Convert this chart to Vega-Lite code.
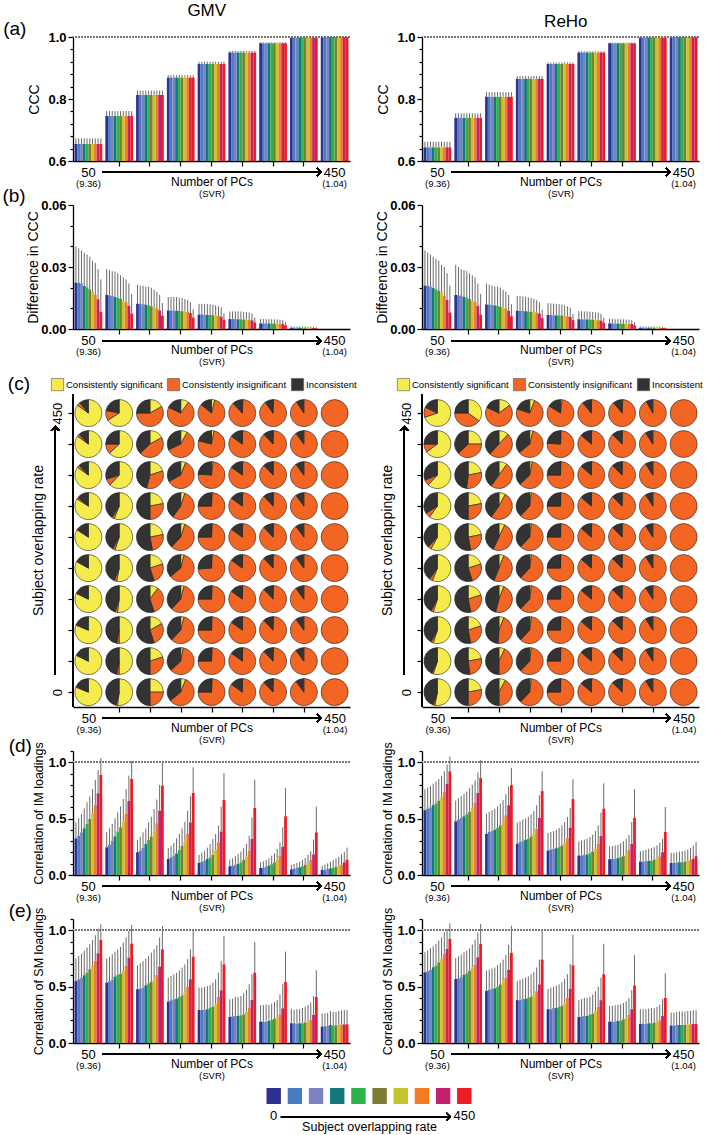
{
"$schema": "https://vega.github.io/schema/vega-lite/v6.json",
"padding": {"left": 2, "top": 2, "right": 2, "bottom": 2},
"config": {
  "font": "Liberation Sans",
  "view": {"stroke": null},
  "axis": {"grid": false, "labelOverlap": false, "domainColor": "#000", "domainWidth": 1.3, "tickColor": "#000", "tickWidth": 1.2, "labelColor": "#000", "titleColor": "#000", "titleFontWeight": "normal"},
  "title": {"fontWeight": "normal", "color": "#000"}
},
"datasets": {"main": [
{"p":"GMV","g":50,"r":0,"a":0.655,"ae":0.673,"b":0.0224,"be":0.040,"d":0.325,"de":0.467,"e":0.550,"ee":0.751,"sig":0.81,"ins":0.01,"inc":0.18},
{"p":"GMV","g":50,"r":50,"a":0.655,"ae":0.673,"b":0.0224,"be":0.039,"d":0.349,"de":0.503,"e":0.565,"ee":0.772,"sig":0.82,"ins":0.01,"inc":0.17},
{"p":"GMV","g":50,"r":100,"a":0.655,"ae":0.673,"b":0.0221,"be":0.038,"d":0.379,"de":0.541,"e":0.580,"ee":0.793,"sig":0.81,"ins":0.01,"inc":0.18},
{"p":"GMV","g":50,"r":150,"a":0.655,"ae":0.673,"b":0.0208,"be":0.037,"d":0.414,"de":0.592,"e":0.601,"ee":0.817,"sig":0.82,"ins":0.01,"inc":0.17},
{"p":"GMV","g":50,"r":200,"a":0.655,"ae":0.673,"b":0.0202,"be":0.036,"d":0.453,"de":0.645,"e":0.624,"ee":0.846,"sig":0.83,"ins":0.01,"inc":0.16},
{"p":"GMV","g":50,"r":250,"a":0.655,"ae":0.673,"b":0.0192,"be":0.035,"d":0.497,"de":0.698,"e":0.654,"ee":0.876,"sig":0.84,"ins":0.01,"inc":0.15},
{"p":"GMV","g":50,"r":300,"a":0.655,"ae":0.673,"b":0.0181,"be":0.033,"d":0.550,"de":0.763,"e":0.683,"ee":0.914,"sig":0.84,"ins":0.02,"inc":0.14},
{"p":"GMV","g":50,"r":350,"a":0.655,"ae":0.673,"b":0.0165,"be":0.032,"d":0.621,"de":0.843,"e":0.728,"ee":0.956,"sig":0.85,"ins":0.03,"inc":0.12},
{"p":"GMV","g":50,"r":400,"a":0.655,"ae":0.673,"b":0.0144,"be":0.029,"d":0.725,"de":0.929,"e":0.796,"ee":1.015,"sig":0.85,"ins":0.03,"inc":0.12},
{"p":"GMV","g":50,"r":450,"a":0.655,"ae":0.673,"b":0.0084,"be":0.024,"d":0.888,"de":1.038,"e":0.914,"ee":1.053,"sig":0.85,"ins":0.04,"inc":0.11},
{"p":"GMV","g":100,"r":0,"a":0.745,"ae":0.761,"b":0.0165,"be":0.029,"d":0.246,"de":0.379,"e":0.536,"ee":0.749,"sig":0.52,"ins":0.02,"inc":0.46},
{"p":"GMV","g":100,"r":50,"a":0.745,"ae":0.761,"b":0.0163,"be":0.0285,"d":0.269,"de":0.414,"e":0.547,"ee":0.766,"sig":0.50,"ins":0.03,"inc":0.47},
{"p":"GMV","g":100,"r":100,"a":0.745,"ae":0.761,"b":0.016,"be":0.028,"d":0.305,"de":0.453,"e":0.559,"ee":0.787,"sig":0.50,"ins":0.03,"inc":0.47},
{"p":"GMV","g":100,"r":150,"a":0.745,"ae":0.761,"b":0.0155,"be":0.0278,"d":0.343,"de":0.503,"e":0.589,"ee":0.811,"sig":0.52,"ins":0.03,"inc":0.45},
{"p":"GMV","g":100,"r":200,"a":0.745,"ae":0.761,"b":0.015,"be":0.027,"d":0.385,"de":0.556,"e":0.604,"ee":0.831,"sig":0.53,"ins":0.03,"inc":0.44},
{"p":"GMV","g":100,"r":250,"a":0.745,"ae":0.761,"b":0.0145,"be":0.026,"d":0.423,"de":0.609,"e":0.615,"ee":0.852,"sig":0.55,"ins":0.03,"inc":0.42},
{"p":"GMV","g":100,"r":300,"a":0.745,"ae":0.761,"b":0.0135,"be":0.025,"d":0.473,"de":0.675,"e":0.639,"ee":0.891,"sig":0.56,"ins":0.03,"inc":0.41},
{"p":"GMV","g":100,"r":350,"a":0.745,"ae":0.761,"b":0.013,"be":0.024,"d":0.541,"de":0.763,"e":0.683,"ee":0.935,"sig":0.62,"ins":0.08,"inc":0.30},
{"p":"GMV","g":100,"r":400,"a":0.745,"ae":0.761,"b":0.0112,"be":0.022,"d":0.657,"de":0.882,"e":0.757,"ee":0.994,"sig":0.63,"ins":0.12,"inc":0.25},
{"p":"GMV","g":100,"r":450,"a":0.745,"ae":0.761,"b":0.0075,"be":0.017,"d":0.852,"de":1.009,"e":0.882,"ee":1.047,"sig":0.66,"ins":0.12,"inc":0.22},
{"p":"GMV","g":150,"r":0,"a":0.813,"ae":0.827,"b":0.0122,"be":0.0215,"d":0.201,"de":0.311,"e":0.476,"ee":0.689,"sig":0.25,"ins":0.25,"inc":0.50},
{"p":"GMV","g":150,"r":50,"a":0.813,"ae":0.827,"b":0.0122,"be":0.021,"d":0.216,"de":0.340,"e":0.482,"ee":0.707,"sig":0.20,"ins":0.30,"inc":0.50},
{"p":"GMV","g":150,"r":100,"a":0.813,"ae":0.827,"b":0.012,"be":0.021,"d":0.240,"de":0.379,"e":0.491,"ee":0.728,"sig":0.17,"ins":0.28,"inc":0.55},
{"p":"GMV","g":150,"r":150,"a":0.813,"ae":0.827,"b":0.0118,"be":0.0205,"d":0.275,"de":0.414,"e":0.512,"ee":0.749,"sig":0.10,"ins":0.35,"inc":0.55},
{"p":"GMV","g":150,"r":200,"a":0.813,"ae":0.827,"b":0.0115,"be":0.0205,"d":0.311,"de":0.467,"e":0.530,"ee":0.772,"sig":0.20,"ins":0.25,"inc":0.55},
{"p":"GMV","g":150,"r":250,"a":0.813,"ae":0.827,"b":0.011,"be":0.020,"d":0.340,"de":0.518,"e":0.541,"ee":0.802,"sig":0.22,"ins":0.25,"inc":0.53},
{"p":"GMV","g":150,"r":300,"a":0.813,"ae":0.827,"b":0.0105,"be":0.019,"d":0.393,"de":0.586,"e":0.565,"ee":0.831,"sig":0.22,"ins":0.28,"inc":0.50},
{"p":"GMV","g":150,"r":350,"a":0.813,"ae":0.827,"b":0.010,"be":0.018,"d":0.459,"de":0.669,"e":0.604,"ee":0.867,"sig":0.20,"ins":0.34,"inc":0.46},
{"p":"GMV","g":150,"r":400,"a":0.813,"ae":0.827,"b":0.009,"be":0.0165,"d":0.571,"de":0.799,"e":0.678,"ee":0.935,"sig":0.17,"ins":0.46,"inc":0.37},
{"p":"GMV","g":150,"r":450,"a":0.813,"ae":0.827,"b":0.0065,"be":0.0125,"d":0.793,"de":0.994,"e":0.831,"ee":1.038,"sig":0.17,"ins":0.58,"inc":0.25},
{"p":"GMV","g":200,"r":0,"a":0.869,"ae":0.877,"b":0.009,"be":0.0155,"d":0.142,"de":0.237,"e":0.367,"ee":0.580,"sig":0.06,"ins":0.58,"inc":0.36},
{"p":"GMV","g":200,"r":50,"a":0.869,"ae":0.877,"b":0.009,"be":0.0155,"d":0.157,"de":0.260,"e":0.379,"ee":0.595,"sig":0.03,"ins":0.60,"inc":0.37},
{"p":"GMV","g":200,"r":100,"a":0.869,"ae":0.877,"b":0.009,"be":0.0155,"d":0.172,"de":0.284,"e":0.388,"ee":0.609,"sig":0.04,"ins":0.58,"inc":0.38},
{"p":"GMV","g":200,"r":150,"a":0.869,"ae":0.877,"b":0.0088,"be":0.0155,"d":0.192,"de":0.325,"e":0.393,"ee":0.624,"sig":0.04,"ins":0.58,"inc":0.38},
{"p":"GMV","g":200,"r":200,"a":0.869,"ae":0.877,"b":0.0087,"be":0.0152,"d":0.222,"de":0.364,"e":0.408,"ee":0.645,"sig":0.04,"ins":0.60,"inc":0.36},
{"p":"GMV","g":200,"r":250,"a":0.869,"ae":0.877,"b":0.0086,"be":0.015,"d":0.260,"de":0.414,"e":0.423,"ee":0.669,"sig":0.05,"ins":0.57,"inc":0.38},
{"p":"GMV","g":200,"r":300,"a":0.869,"ae":0.877,"b":0.0085,"be":0.0145,"d":0.296,"de":0.473,"e":0.447,"ee":0.698,"sig":0.05,"ins":0.55,"inc":0.40},
{"p":"GMV","g":200,"r":350,"a":0.869,"ae":0.877,"b":0.0082,"be":0.014,"d":0.364,"de":0.571,"e":0.500,"ee":0.743,"sig":0.06,"ins":0.61,"inc":0.33},
{"p":"GMV","g":200,"r":400,"a":0.869,"ae":0.877,"b":0.0077,"be":0.013,"d":0.467,"de":0.698,"e":0.565,"ee":0.831,"sig":0.08,"ins":0.60,"inc":0.32},
{"p":"GMV","g":200,"r":450,"a":0.869,"ae":0.877,"b":0.0055,"be":0.0095,"d":0.728,"de":0.956,"e":0.766,"ee":1.003,"sig":0.10,"ins":0.72,"inc":0.18},
{"p":"GMV","g":250,"r":0,"a":0.913,"ae":0.920,"b":0.007,"be":0.0122,"d":0.107,"de":0.178,"e":0.293,"ee":0.491,"sig":0.01,"ins":0.74,"inc":0.25},
{"p":"GMV","g":250,"r":50,"a":0.913,"ae":0.920,"b":0.007,"be":0.0122,"d":0.118,"de":0.201,"e":0.293,"ee":0.491,"sig":0.01,"ins":0.74,"inc":0.25},
{"p":"GMV","g":250,"r":100,"a":0.913,"ae":0.920,"b":0.0069,"be":0.0122,"d":0.127,"de":0.216,"e":0.296,"ee":0.497,"sig":0.01,"ins":0.74,"inc":0.25},
{"p":"GMV","g":250,"r":150,"a":0.913,"ae":0.920,"b":0.0068,"be":0.012,"d":0.142,"de":0.243,"e":0.299,"ee":0.506,"sig":0.01,"ins":0.74,"inc":0.25},
{"p":"GMV","g":250,"r":200,"a":0.913,"ae":0.920,"b":0.0068,"be":0.012,"d":0.157,"de":0.275,"e":0.314,"ee":0.515,"sig":0.01,"ins":0.73,"inc":0.26},
{"p":"GMV","g":250,"r":250,"a":0.913,"ae":0.920,"b":0.0067,"be":0.0118,"d":0.178,"de":0.320,"e":0.322,"ee":0.536,"sig":0.01,"ins":0.74,"inc":0.25},
{"p":"GMV","g":250,"r":300,"a":0.913,"ae":0.920,"b":0.0066,"be":0.0115,"d":0.225,"de":0.364,"e":0.343,"ee":0.565,"sig":0.01,"ins":0.74,"inc":0.25},
{"p":"GMV","g":250,"r":350,"a":0.913,"ae":0.920,"b":0.0063,"be":0.011,"d":0.290,"de":0.438,"e":0.408,"ee":0.624,"sig":0.02,"ins":0.74,"inc":0.24},
{"p":"GMV","g":250,"r":400,"a":0.913,"ae":0.920,"b":0.006,"be":0.0105,"d":0.385,"de":0.607,"e":0.467,"ee":0.728,"sig":0.03,"ins":0.76,"inc":0.21},
{"p":"GMV","g":250,"r":450,"a":0.913,"ae":0.920,"b":0.0045,"be":0.0075,"d":0.666,"de":0.905,"e":0.698,"ee":0.950,"sig":0.04,"ins":0.82,"inc":0.14},
{"p":"GMV","g":300,"r":0,"a":0.950,"ae":0.955,"b":0.0048,"be":0.0085,"d":0.077,"de":0.136,"e":0.231,"ee":0.388,"sig":0.005,"ins":0.845,"inc":0.15},
{"p":"GMV","g":300,"r":50,"a":0.950,"ae":0.955,"b":0.0048,"be":0.0085,"d":0.083,"de":0.148,"e":0.237,"ee":0.393,"sig":0.005,"ins":0.845,"inc":0.15},
{"p":"GMV","g":300,"r":100,"a":0.950,"ae":0.955,"b":0.0048,"be":0.0085,"d":0.092,"de":0.166,"e":0.240,"ee":0.408,"sig":0.005,"ins":0.845,"inc":0.15},
{"p":"GMV","g":300,"r":150,"a":0.950,"ae":0.955,"b":0.0047,"be":0.0085,"d":0.098,"de":0.186,"e":0.240,"ee":0.408,"sig":0.005,"ins":0.845,"inc":0.15},
{"p":"GMV","g":300,"r":200,"a":0.950,"ae":0.955,"b":0.0047,"be":0.0085,"d":0.112,"de":0.207,"e":0.246,"ee":0.417,"sig":0.005,"ins":0.845,"inc":0.15},
{"p":"GMV","g":300,"r":250,"a":0.950,"ae":0.955,"b":0.0046,"be":0.0083,"d":0.133,"de":0.237,"e":0.254,"ee":0.441,"sig":0.005,"ins":0.845,"inc":0.15},
{"p":"GMV","g":300,"r":300,"a":0.950,"ae":0.955,"b":0.0045,"be":0.0082,"d":0.163,"de":0.275,"e":0.278,"ee":0.470,"sig":0.005,"ins":0.845,"inc":0.15},
{"p":"GMV","g":300,"r":350,"a":0.950,"ae":0.955,"b":0.0044,"be":0.008,"d":0.216,"de":0.349,"e":0.311,"ee":0.521,"sig":0.005,"ins":0.845,"inc":0.15},
{"p":"GMV","g":300,"r":400,"a":0.950,"ae":0.955,"b":0.0042,"be":0.0075,"d":0.320,"de":0.512,"e":0.382,"ee":0.609,"sig":0.005,"ins":0.845,"inc":0.15},
{"p":"GMV","g":300,"r":450,"a":0.950,"ae":0.955,"b":0.0032,"be":0.0055,"d":0.595,"de":0.846,"e":0.624,"ee":0.896,"sig":0.01,"ins":0.87,"inc":0.12},
{"p":"GMV","g":350,"r":0,"a":0.980,"ae":0.983,"b":0.0027,"be":0.0048,"d":0.062,"de":0.112,"e":0.189,"ee":0.334,"sig":0.005,"ins":0.875,"inc":0.12},
{"p":"GMV","g":350,"r":50,"a":0.980,"ae":0.983,"b":0.0027,"be":0.0048,"d":0.065,"de":0.121,"e":0.189,"ee":0.337,"sig":0.005,"ins":0.875,"inc":0.12},
{"p":"GMV","g":350,"r":100,"a":0.980,"ae":0.983,"b":0.0027,"be":0.0048,"d":0.074,"de":0.133,"e":0.189,"ee":0.340,"sig":0.005,"ins":0.875,"inc":0.12},
{"p":"GMV","g":350,"r":150,"a":0.980,"ae":0.983,"b":0.0027,"be":0.0048,"d":0.083,"de":0.148,"e":0.195,"ee":0.337,"sig":0.005,"ins":0.875,"inc":0.12},
{"p":"GMV","g":350,"r":200,"a":0.980,"ae":0.983,"b":0.0026,"be":0.0047,"d":0.095,"de":0.172,"e":0.204,"ee":0.349,"sig":0.005,"ins":0.875,"inc":0.12},
{"p":"GMV","g":350,"r":250,"a":0.980,"ae":0.983,"b":0.0026,"be":0.0047,"d":0.112,"de":0.192,"e":0.216,"ee":0.364,"sig":0.005,"ins":0.875,"inc":0.12},
{"p":"GMV","g":350,"r":300,"a":0.980,"ae":0.983,"b":0.0026,"be":0.0046,"d":0.136,"de":0.231,"e":0.225,"ee":0.382,"sig":0.005,"ins":0.875,"inc":0.12},
{"p":"GMV","g":350,"r":350,"a":0.980,"ae":0.983,"b":0.0025,"be":0.0045,"d":0.172,"de":0.290,"e":0.254,"ee":0.432,"sig":0.005,"ins":0.875,"inc":0.12},
{"p":"GMV","g":350,"r":400,"a":0.980,"ae":0.983,"b":0.0024,"be":0.0043,"d":0.251,"de":0.423,"e":0.308,"ee":0.521,"sig":0.005,"ins":0.875,"inc":0.12},
{"p":"GMV","g":350,"r":450,"a":0.980,"ae":0.983,"b":0.0018,"be":0.0033,"d":0.521,"de":0.772,"e":0.541,"ee":0.811,"sig":0.005,"ins":0.895,"inc":0.10},
{"p":"GMV","g":400,"r":0,"a":0.998,"ae":0.999,"b":0.0006,"be":0.0012,"d":0.050,"de":0.089,"e":0.175,"ee":0.305,"sig":0,"ins":0.90,"inc":0.10},
{"p":"GMV","g":400,"r":50,"a":0.998,"ae":0.999,"b":0.0006,"be":0.0012,"d":0.053,"de":0.098,"e":0.175,"ee":0.293,"sig":0,"ins":0.90,"inc":0.10},
{"p":"GMV","g":400,"r":100,"a":0.998,"ae":0.999,"b":0.0006,"be":0.0012,"d":0.062,"de":0.107,"e":0.172,"ee":0.299,"sig":0,"ins":0.90,"inc":0.10},
{"p":"GMV","g":400,"r":150,"a":0.998,"ae":0.999,"b":0.0006,"be":0.0012,"d":0.068,"de":0.118,"e":0.175,"ee":0.299,"sig":0,"ins":0.90,"inc":0.10},
{"p":"GMV","g":400,"r":200,"a":0.998,"ae":0.999,"b":0.0006,"be":0.0012,"d":0.077,"de":0.133,"e":0.175,"ee":0.311,"sig":0,"ins":0.90,"inc":0.10},
{"p":"GMV","g":400,"r":250,"a":0.998,"ae":0.999,"b":0.0006,"be":0.0012,"d":0.092,"de":0.151,"e":0.183,"ee":0.322,"sig":0,"ins":0.90,"inc":0.10},
{"p":"GMV","g":400,"r":300,"a":0.998,"ae":0.999,"b":0.0006,"be":0.0011,"d":0.107,"de":0.178,"e":0.189,"ee":0.337,"sig":0,"ins":0.90,"inc":0.10},
{"p":"GMV","g":400,"r":350,"a":0.998,"ae":0.999,"b":0.0006,"be":0.0011,"d":0.133,"de":0.210,"e":0.204,"ee":0.358,"sig":0,"ins":0.90,"inc":0.10},
{"p":"GMV","g":400,"r":400,"a":0.998,"ae":0.999,"b":0.0005,"be":0.0010,"d":0.183,"de":0.314,"e":0.249,"ee":0.417,"sig":0,"ins":0.90,"inc":0.10},
{"p":"GMV","g":400,"r":450,"a":0.998,"ae":0.999,"b":0.0004,"be":0.0008,"d":0.379,"de":0.607,"e":0.408,"ee":0.645,"sig":0,"ins":0.91,"inc":0.09},
{"p":"GMV","g":450,"r":0,"a":1,"ae":1,"b":0,"be":0,"d":0.044,"de":0.083,"e":0.145,"ee":0.263,"sig":0,"ins":1,"inc":0},
{"p":"GMV","g":450,"r":50,"a":1,"ae":1,"b":0,"be":0,"d":0.047,"de":0.092,"e":0.148,"ee":0.263,"sig":0,"ins":1,"inc":0},
{"p":"GMV","g":450,"r":100,"a":1,"ae":1,"b":0,"be":0,"d":0.053,"de":0.104,"e":0.151,"ee":0.269,"sig":0,"ins":1,"inc":0},
{"p":"GMV","g":450,"r":150,"a":1,"ae":1,"b":0,"be":0,"d":0.059,"de":0.118,"e":0.160,"ee":0.284,"sig":0,"ins":1,"inc":0},
{"p":"GMV","g":450,"r":200,"a":1,"ae":1,"b":0,"be":0,"d":0.065,"de":0.133,"e":0.154,"ee":0.275,"sig":0,"ins":1,"inc":0},
{"p":"GMV","g":450,"r":250,"a":1,"ae":1,"b":0,"be":0,"d":0.071,"de":0.148,"e":0.157,"ee":0.275,"sig":0,"ins":1,"inc":0},
{"p":"GMV","g":450,"r":300,"a":1,"ae":1,"b":0,"be":0,"d":0.080,"de":0.163,"e":0.160,"ee":0.284,"sig":0,"ins":1,"inc":0},
{"p":"GMV","g":450,"r":350,"a":1,"ae":1,"b":0,"be":0,"d":0.092,"de":0.183,"e":0.163,"ee":0.290,"sig":0,"ins":1,"inc":0},
{"p":"GMV","g":450,"r":400,"a":1,"ae":1,"b":0,"be":0,"d":0.112,"de":0.207,"e":0.166,"ee":0.293,"sig":0,"ins":1,"inc":0},
{"p":"GMV","g":450,"r":450,"a":1,"ae":1,"b":0,"be":0,"d":0.136,"de":0.243,"e":0.166,"ee":0.293,"sig":0,"ins":1,"inc":0},
{"p":"ReHo","g":50,"r":0,"a":0.644,"ae":0.662,"b":0.021,"be":0.038,"d":0.575,"de":0.76,"e":0.627,"ee":0.805,"sig":0.53,"ins":0.02,"inc":0.45},
{"p":"ReHo","g":50,"r":50,"a":0.644,"ae":0.662,"b":0.021,"be":0.037,"d":0.59,"de":0.775,"e":0.636,"ee":0.820,"sig":0.55,"ins":0.02,"inc":0.43},
{"p":"ReHo","g":50,"r":100,"a":0.644,"ae":0.662,"b":0.0205,"be":0.036,"d":0.60,"de":0.79,"e":0.648,"ee":0.840,"sig":0.55,"ins":0.03,"inc":0.42},
{"p":"ReHo","g":50,"r":150,"a":0.644,"ae":0.662,"b":0.0198,"be":0.035,"d":0.62,"de":0.81,"e":0.672,"ee":0.858,"sig":0.55,"ins":0.03,"inc":0.42},
{"p":"ReHo","g":50,"r":200,"a":0.644,"ae":0.662,"b":0.0192,"be":0.034,"d":0.635,"de":0.83,"e":0.686,"ee":0.879,"sig":0.56,"ins":0.04,"inc":0.40},
{"p":"ReHo","g":50,"r":250,"a":0.644,"ae":0.662,"b":0.0185,"be":0.033,"d":0.66,"de":0.85,"e":0.716,"ee":0.908,"sig":0.58,"ins":0.04,"inc":0.38},
{"p":"ReHo","g":50,"r":300,"a":0.644,"ae":0.662,"b":0.0175,"be":0.031,"d":0.69,"de":0.88,"e":0.746,"ee":0.938,"sig":0.60,"ins":0.06,"inc":0.34},
{"p":"ReHo","g":50,"r":350,"a":0.644,"ae":0.662,"b":0.016,"be":0.030,"d":0.74,"de":0.92,"e":0.790,"ee":0.982,"sig":0.62,"ins":0.07,"inc":0.31},
{"p":"ReHo","g":50,"r":400,"a":0.644,"ae":0.662,"b":0.014,"be":0.027,"d":0.81,"de":0.98,"e":0.834,"ee":1.012,"sig":0.65,"ins":0.10,"inc":0.25},
{"p":"ReHo","g":50,"r":450,"a":0.644,"ae":0.662,"b":0.008,"be":0.021,"d":0.92,"de":1.05,"e":0.923,"ee":1.062,"sig":0.70,"ins":0.12,"inc":0.18},
{"p":"ReHo","g":100,"r":0,"a":0.739,"ae":0.754,"b":0.0165,"be":0.031,"d":0.476,"de":0.66,"e":0.568,"ee":0.754,"sig":0.22,"ins":0.28,"inc":0.50},
{"p":"ReHo","g":100,"r":50,"a":0.739,"ae":0.754,"b":0.0163,"be":0.030,"d":0.494,"de":0.68,"e":0.574,"ee":0.769,"sig":0.22,"ins":0.26,"inc":0.52},
{"p":"ReHo","g":100,"r":100,"a":0.739,"ae":0.754,"b":0.016,"be":0.029,"d":0.506,"de":0.70,"e":0.583,"ee":0.784,"sig":0.20,"ins":0.27,"inc":0.53},
{"p":"ReHo","g":100,"r":150,"a":0.739,"ae":0.754,"b":0.0155,"be":0.0285,"d":0.521,"de":0.72,"e":0.604,"ee":0.805,"sig":0.20,"ins":0.27,"inc":0.53},
{"p":"ReHo","g":100,"r":200,"a":0.739,"ae":0.754,"b":0.015,"be":0.028,"d":0.539,"de":0.74,"e":0.618,"ee":0.820,"sig":0.20,"ins":0.25,"inc":0.55},
{"p":"ReHo","g":100,"r":250,"a":0.739,"ae":0.754,"b":0.0145,"be":0.027,"d":0.560,"de":0.77,"e":0.642,"ee":0.840,"sig":0.22,"ins":0.25,"inc":0.53},
{"p":"ReHo","g":100,"r":300,"a":0.739,"ae":0.754,"b":0.0135,"be":0.026,"d":0.595,"de":0.80,"e":0.672,"ee":0.873,"sig":0.22,"ins":0.28,"inc":0.50},
{"p":"ReHo","g":100,"r":350,"a":0.739,"ae":0.754,"b":0.013,"be":0.025,"d":0.643,"de":0.84,"e":0.695,"ee":0.917,"sig":0.22,"ins":0.30,"inc":0.48},
{"p":"ReHo","g":100,"r":400,"a":0.739,"ae":0.754,"b":0.0112,"be":0.022,"d":0.729,"de":0.91,"e":0.760,"ee":0.982,"sig":0.25,"ins":0.38,"inc":0.37},
{"p":"ReHo","g":100,"r":450,"a":0.739,"ae":0.754,"b":0.007,"be":0.017,"d":0.86,"de":1.02,"e":0.879,"ee":1.056,"sig":0.35,"ins":0.40,"inc":0.25},
{"p":"ReHo","g":150,"r":0,"a":0.807,"ae":0.822,"b":0.0118,"be":0.022,"d":0.366,"de":0.545,"e":0.461,"ee":0.64,"sig":0.08,"ins":0.42,"inc":0.50},
{"p":"ReHo","g":150,"r":50,"a":0.807,"ae":0.822,"b":0.0118,"be":0.0215,"d":0.381,"de":0.560,"e":0.47,"ee":0.65,"sig":0.07,"ins":0.43,"inc":0.50},
{"p":"ReHo","g":150,"r":100,"a":0.807,"ae":0.822,"b":0.0116,"be":0.021,"d":0.390,"de":0.574,"e":0.48,"ee":0.66,"sig":0.06,"ins":0.45,"inc":0.49},
{"p":"ReHo","g":150,"r":150,"a":0.807,"ae":0.822,"b":0.0114,"be":0.0205,"d":0.402,"de":0.589,"e":0.485,"ee":0.67,"sig":0.06,"ins":0.48,"inc":0.46},
{"p":"ReHo","g":150,"r":200,"a":0.807,"ae":0.822,"b":0.0112,"be":0.0205,"d":0.420,"de":0.610,"e":0.50,"ee":0.69,"sig":0.06,"ins":0.50,"inc":0.44},
{"p":"ReHo","g":150,"r":250,"a":0.807,"ae":0.822,"b":0.0108,"be":0.020,"d":0.440,"de":0.634,"e":0.52,"ee":0.71,"sig":0.07,"ins":0.50,"inc":0.43},
{"p":"ReHo","g":150,"r":300,"a":0.807,"ae":0.822,"b":0.0103,"be":0.019,"d":0.470,"de":0.664,"e":0.545,"ee":0.74,"sig":0.08,"ins":0.52,"inc":0.40},
{"p":"ReHo","g":150,"r":350,"a":0.807,"ae":0.822,"b":0.0098,"be":0.018,"d":0.530,"de":0.717,"e":0.58,"ee":0.78,"sig":0.10,"ins":0.50,"inc":0.40},
{"p":"ReHo","g":150,"r":400,"a":0.807,"ae":0.822,"b":0.0088,"be":0.0165,"d":0.619,"de":0.783,"e":0.65,"ee":0.87,"sig":0.12,"ins":0.50,"inc":0.38},
{"p":"ReHo","g":150,"r":450,"a":0.807,"ae":0.822,"b":0.0062,"be":0.012,"d":0.798,"de":0.95,"e":0.80,"ee":1.04,"sig":0.15,"ins":0.67,"inc":0.18},
{"p":"ReHo","g":200,"r":0,"a":0.865,"ae":0.874,"b":0.0088,"be":0.016,"d":0.277,"de":0.464,"e":0.38,"ee":0.55,"sig":0.02,"ins":0.60,"inc":0.38},
{"p":"ReHo","g":200,"r":50,"a":0.865,"ae":0.874,"b":0.0088,"be":0.016,"d":0.292,"de":0.476,"e":0.38,"ee":0.56,"sig":0.02,"ins":0.60,"inc":0.38},
{"p":"ReHo","g":200,"r":100,"a":0.865,"ae":0.874,"b":0.0087,"be":0.0158,"d":0.301,"de":0.491,"e":0.39,"ee":0.57,"sig":0.02,"ins":0.60,"inc":0.38},
{"p":"ReHo","g":200,"r":150,"a":0.865,"ae":0.874,"b":0.0086,"be":0.0156,"d":0.313,"de":0.500,"e":0.39,"ee":0.58,"sig":0.02,"ins":0.60,"inc":0.38},
{"p":"ReHo","g":200,"r":200,"a":0.865,"ae":0.874,"b":0.0085,"be":0.0153,"d":0.321,"de":0.515,"e":0.40,"ee":0.59,"sig":0.02,"ins":0.60,"inc":0.38},
{"p":"ReHo","g":200,"r":250,"a":0.865,"ae":0.874,"b":0.0084,"be":0.015,"d":0.342,"de":0.539,"e":0.41,"ee":0.61,"sig":0.02,"ins":0.60,"inc":0.38},
{"p":"ReHo","g":200,"r":300,"a":0.865,"ae":0.874,"b":0.0082,"be":0.0145,"d":0.366,"de":0.568,"e":0.43,"ee":0.63,"sig":0.02,"ins":0.60,"inc":0.38},
{"p":"ReHo","g":200,"r":350,"a":0.865,"ae":0.874,"b":0.008,"be":0.014,"d":0.411,"de":0.619,"e":0.46,"ee":0.67,"sig":0.03,"ins":0.60,"inc":0.37},
{"p":"ReHo","g":200,"r":400,"a":0.865,"ae":0.874,"b":0.0075,"be":0.013,"d":0.506,"de":0.708,"e":0.52,"ee":0.74,"sig":0.04,"ins":0.60,"inc":0.36},
{"p":"ReHo","g":200,"r":450,"a":0.865,"ae":0.874,"b":0.0053,"be":0.0093,"d":0.744,"de":0.92,"e":0.74,"ee":1.0,"sig":0.06,"ins":0.74,"inc":0.20},
{"p":"ReHo","g":250,"r":0,"a":0.913,"ae":0.918,"b":0.0068,"be":0.0125,"d":0.217,"de":0.372,"e":0.30,"ee":0.48,"sig":0.005,"ins":0.745,"inc":0.25},
{"p":"ReHo","g":250,"r":50,"a":0.913,"ae":0.918,"b":0.0068,"be":0.0124,"d":0.223,"de":0.381,"e":0.30,"ee":0.49,"sig":0.005,"ins":0.745,"inc":0.25},
{"p":"ReHo","g":250,"r":100,"a":0.913,"ae":0.918,"b":0.0067,"be":0.0123,"d":0.232,"de":0.390,"e":0.31,"ee":0.50,"sig":0.005,"ins":0.745,"inc":0.25},
{"p":"ReHo","g":250,"r":150,"a":0.913,"ae":0.918,"b":0.0066,"be":0.0121,"d":0.238,"de":0.402,"e":0.31,"ee":0.51,"sig":0.005,"ins":0.745,"inc":0.25},
{"p":"ReHo","g":250,"r":200,"a":0.913,"ae":0.918,"b":0.0066,"be":0.012,"d":0.247,"de":0.417,"e":0.32,"ee":0.52,"sig":0.005,"ins":0.745,"inc":0.25},
{"p":"ReHo","g":250,"r":250,"a":0.913,"ae":0.918,"b":0.0065,"be":0.0118,"d":0.262,"de":0.440,"e":0.33,"ee":0.54,"sig":0.005,"ins":0.745,"inc":0.25},
{"p":"ReHo","g":250,"r":300,"a":0.913,"ae":0.918,"b":0.0064,"be":0.0115,"d":0.283,"de":0.470,"e":0.35,"ee":0.57,"sig":0.005,"ins":0.745,"inc":0.25},
{"p":"ReHo","g":250,"r":350,"a":0.913,"ae":0.918,"b":0.0062,"be":0.011,"d":0.327,"de":0.515,"e":0.40,"ee":0.61,"sig":0.005,"ins":0.745,"inc":0.25},
{"p":"ReHo","g":250,"r":400,"a":0.913,"ae":0.918,"b":0.0058,"be":0.0103,"d":0.420,"de":0.595,"e":0.48,"ee":0.70,"sig":0.01,"ins":0.75,"inc":0.24},
{"p":"ReHo","g":250,"r":450,"a":0.913,"ae":0.918,"b":0.0043,"be":0.0073,"d":0.673,"de":0.85,"e":0.69,"ee":0.96,"sig":0.02,"ins":0.82,"inc":0.16},
{"p":"ReHo","g":300,"r":0,"a":0.950,"ae":0.954,"b":0.0047,"be":0.0086,"d":0.173,"de":0.298,"e":0.23,"ee":0.38,"sig":0.005,"ins":0.86,"inc":0.135},
{"p":"ReHo","g":300,"r":50,"a":0.950,"ae":0.954,"b":0.0047,"be":0.0086,"d":0.173,"de":0.307,"e":0.235,"ee":0.39,"sig":0.005,"ins":0.86,"inc":0.135},
{"p":"ReHo","g":300,"r":100,"a":0.950,"ae":0.954,"b":0.0047,"be":0.0085,"d":0.179,"de":0.315,"e":0.24,"ee":0.40,"sig":0.005,"ins":0.86,"inc":0.135},
{"p":"ReHo","g":300,"r":150,"a":0.950,"ae":0.954,"b":0.0046,"be":0.0085,"d":0.182,"de":0.321,"e":0.24,"ee":0.40,"sig":0.005,"ins":0.86,"inc":0.135},
{"p":"ReHo","g":300,"r":200,"a":0.950,"ae":0.954,"b":0.0046,"be":0.0084,"d":0.193,"de":0.336,"e":0.25,"ee":0.41,"sig":0.005,"ins":0.86,"inc":0.135},
{"p":"ReHo","g":300,"r":250,"a":0.950,"ae":0.954,"b":0.0045,"be":0.0083,"d":0.208,"de":0.357,"e":0.26,"ee":0.43,"sig":0.005,"ins":0.86,"inc":0.135},
{"p":"ReHo","g":300,"r":300,"a":0.950,"ae":0.954,"b":0.0044,"be":0.0081,"d":0.232,"de":0.390,"e":0.28,"ee":0.46,"sig":0.005,"ins":0.86,"inc":0.135},
{"p":"ReHo","g":300,"r":350,"a":0.950,"ae":0.954,"b":0.0043,"be":0.0079,"d":0.277,"de":0.440,"e":0.32,"ee":0.50,"sig":0.005,"ins":0.86,"inc":0.135},
{"p":"ReHo","g":300,"r":400,"a":0.950,"ae":0.954,"b":0.0041,"be":0.0074,"d":0.345,"de":0.554,"e":0.38,"ee":0.58,"sig":0.005,"ins":0.86,"inc":0.135},
{"p":"ReHo","g":300,"r":450,"a":0.950,"ae":0.954,"b":0.0031,"be":0.0054,"d":0.589,"de":0.813,"e":0.61,"ee":0.88,"sig":0.005,"ins":0.885,"inc":0.11},
{"p":"ReHo","g":350,"r":0,"a":0.980,"ae":0.982,"b":0.0027,"be":0.0049,"d":0.140,"de":0.256,"e":0.19,"ee":0.33,"sig":0.005,"ins":0.87,"inc":0.125},
{"p":"ReHo","g":350,"r":50,"a":0.980,"ae":0.982,"b":0.0027,"be":0.0049,"d":0.143,"de":0.256,"e":0.19,"ee":0.33,"sig":0.005,"ins":0.87,"inc":0.125},
{"p":"ReHo","g":350,"r":100,"a":0.980,"ae":0.982,"b":0.0027,"be":0.0048,"d":0.143,"de":0.262,"e":0.19,"ee":0.335,"sig":0.005,"ins":0.87,"inc":0.125},
{"p":"ReHo","g":350,"r":150,"a":0.980,"ae":0.982,"b":0.0026,"be":0.0048,"d":0.149,"de":0.268,"e":0.195,"ee":0.34,"sig":0.005,"ins":0.87,"inc":0.125},
{"p":"ReHo","g":350,"r":200,"a":0.980,"ae":0.982,"b":0.0026,"be":0.0047,"d":0.158,"de":0.283,"e":0.20,"ee":0.345,"sig":0.005,"ins":0.87,"inc":0.125},
{"p":"ReHo","g":350,"r":250,"a":0.980,"ae":0.982,"b":0.0026,"be":0.0047,"d":0.167,"de":0.298,"e":0.21,"ee":0.355,"sig":0.005,"ins":0.87,"inc":0.125},
{"p":"ReHo","g":350,"r":300,"a":0.980,"ae":0.982,"b":0.0025,"be":0.0046,"d":0.182,"de":0.321,"e":0.225,"ee":0.37,"sig":0.005,"ins":0.87,"inc":0.125},
{"p":"ReHo","g":350,"r":350,"a":0.980,"ae":0.982,"b":0.0025,"be":0.0045,"d":0.223,"de":0.357,"e":0.25,"ee":0.40,"sig":0.005,"ins":0.87,"inc":0.125},
{"p":"ReHo","g":350,"r":400,"a":0.980,"ae":0.982,"b":0.0024,"be":0.0043,"d":0.277,"de":0.470,"e":0.30,"ee":0.47,"sig":0.005,"ins":0.87,"inc":0.125},
{"p":"ReHo","g":350,"r":450,"a":0.980,"ae":0.982,"b":0.0018,"be":0.0032,"d":0.506,"de":0.762,"e":0.51,"ee":0.78,"sig":0.01,"ins":0.88,"inc":0.11},
{"p":"ReHo","g":400,"r":0,"a":0.998,"ae":0.999,"b":0.0006,"be":0.0012,"d":0.119,"de":0.211,"e":0.17,"ee":0.30,"sig":0,"ins":0.91,"inc":0.09},
{"p":"ReHo","g":400,"r":50,"a":0.998,"ae":0.999,"b":0.0006,"be":0.0012,"d":0.119,"de":0.217,"e":0.17,"ee":0.30,"sig":0,"ins":0.91,"inc":0.09},
{"p":"ReHo","g":400,"r":100,"a":0.998,"ae":0.999,"b":0.0006,"be":0.0012,"d":0.122,"de":0.223,"e":0.17,"ee":0.30,"sig":0,"ins":0.91,"inc":0.09},
{"p":"ReHo","g":400,"r":150,"a":0.998,"ae":0.999,"b":0.0006,"be":0.0012,"d":0.125,"de":0.232,"e":0.175,"ee":0.305,"sig":0,"ins":0.91,"inc":0.09},
{"p":"ReHo","g":400,"r":200,"a":0.998,"ae":0.999,"b":0.0006,"be":0.0012,"d":0.128,"de":0.238,"e":0.175,"ee":0.31,"sig":0,"ins":0.91,"inc":0.09},
{"p":"ReHo","g":400,"r":250,"a":0.998,"ae":0.999,"b":0.0006,"be":0.0012,"d":0.137,"de":0.247,"e":0.18,"ee":0.31,"sig":0,"ins":0.91,"inc":0.09},
{"p":"ReHo","g":400,"r":300,"a":0.998,"ae":0.999,"b":0.0006,"be":0.0011,"d":0.149,"de":0.262,"e":0.19,"ee":0.32,"sig":0,"ins":0.91,"inc":0.09},
{"p":"ReHo","g":400,"r":350,"a":0.998,"ae":0.999,"b":0.0006,"be":0.0011,"d":0.167,"de":0.286,"e":0.20,"ee":0.34,"sig":0,"ins":0.91,"inc":0.09},
{"p":"ReHo","g":400,"r":400,"a":0.998,"ae":0.999,"b":0.0005,"be":0.0010,"d":0.202,"de":0.321,"e":0.24,"ee":0.39,"sig":0,"ins":0.91,"inc":0.09},
{"p":"ReHo","g":400,"r":450,"a":0.998,"ae":0.999,"b":0.0004,"be":0.0008,"d":0.381,"de":0.604,"e":0.40,"ee":0.62,"sig":0,"ins":0.92,"inc":0.08},
{"p":"ReHo","g":450,"r":0,"a":1,"ae":1,"b":0,"be":0,"d":0.107,"de":0.196,"e":0.155,"ee":0.27,"sig":0,"ins":1,"inc":0},
{"p":"ReHo","g":450,"r":50,"a":1,"ae":1,"b":0,"be":0,"d":0.107,"de":0.196,"e":0.155,"ee":0.27,"sig":0,"ins":1,"inc":0},
{"p":"ReHo","g":450,"r":100,"a":1,"ae":1,"b":0,"be":0,"d":0.110,"de":0.202,"e":0.16,"ee":0.275,"sig":0,"ins":1,"inc":0},
{"p":"ReHo","g":450,"r":150,"a":1,"ae":1,"b":0,"be":0,"d":0.113,"de":0.208,"e":0.16,"ee":0.28,"sig":0,"ins":1,"inc":0},
{"p":"ReHo","g":450,"r":200,"a":1,"ae":1,"b":0,"be":0,"d":0.113,"de":0.211,"e":0.16,"ee":0.28,"sig":0,"ins":1,"inc":0},
{"p":"ReHo","g":450,"r":250,"a":1,"ae":1,"b":0,"be":0,"d":0.119,"de":0.217,"e":0.16,"ee":0.28,"sig":0,"ins":1,"inc":0},
{"p":"ReHo","g":450,"r":300,"a":1,"ae":1,"b":0,"be":0,"d":0.125,"de":0.226,"e":0.165,"ee":0.285,"sig":0,"ins":1,"inc":0},
{"p":"ReHo","g":450,"r":350,"a":1,"ae":1,"b":0,"be":0,"d":0.134,"de":0.241,"e":0.165,"ee":0.285,"sig":0,"ins":1,"inc":0},
{"p":"ReHo","g":450,"r":400,"a":1,"ae":1,"b":0,"be":0,"d":0.143,"de":0.262,"e":0.17,"ee":0.29,"sig":0,"ins":1,"inc":0},
{"p":"ReHo","g":450,"r":450,"a":1,"ae":1,"b":0,"be":0,"d":0.167,"de":0.292,"e":0.17,"ee":0.29,"sig":0,"ins":1,"inc":0}
]},
"data": {"name": "main"},
"spacing": 8,
"center": true,
"resolve": {"scale": {"fill": "independent"}, "legend": {"fill": "independent"}},
"vconcat": [
{"spacing": 18,
 "resolve": {"scale": {"fill": "independent"}, "legend": {"fill": "independent"}},
 "hconcat": [
 {"title": {"text": "GMV", "fontSize": 17, "anchor": "middle", "frame": "bounds", "offset": 0, "dx": 27},
  "bounds": "flush", "spacing": 44,
  "resolve": {"scale": {"fill": "independent"}, "legend": {"fill": "independent"}},
  "vconcat": [
  {"width": 277, "height": 124,
   "title": {"text": "(a)", "orient": "left", "anchor": "end", "angle": 0, "align": "left", "baseline": "top", "fontSize": 19, "offset": 1, "dy": -11},
   "transform": [{"filter": "datum.p == 'GMV'"}],
   "resolve": {"axis": {"x": "independent", "y": "independent"}},
   "layer": [
    {"mark": {"type": "rule", "color": "#444", "strokeWidth": 0.8},
     "encoding": {
      "x": {"field": "g", "type": "ordinal", "scale": {"paddingInner": 0.1, "paddingOuter": 0.05},
            "axis": {"orient": "bottom", "offset": 17, "domain": false, "ticks": false, "labelExpr": "datum.value == 50 ? '(9.36)' : datum.value == 450 ? '(1.04)' : ''", "labelAngle": 0, "labelFontSize": 9.5, "labelPadding": 0, "title": "(SVR)", "titleFontSize": 9.5, "titlePadding": 1}},
      "xOffset": {"field": "r", "type": "ordinal", "scale": {"paddingInner": 0, "paddingOuter": 0}},
      "y": {"field": "a", "type": "quantitative", "scale": {"domain": [0.6, 1], "zero": false, "nice": false},
            "axis": {"title": "CCC", "titleFontSize": 14, "titlePadding": 6.5, "values": [0.6,0.64,0.68,0.72,0.76,0.8,0.84,0.88,0.92,0.96,1], "labelExpr": "abs(datum.value-0.6) < 1e-6 || abs(datum.value-0.8) < 1e-6 || abs(datum.value-1) < 1e-6 ? format(datum.value, '.1f') : ''", "tickSize": {"condition": {"test": "abs(datum.value-0.6) < 1e-6 || abs(datum.value-0.8) < 1e-6 || abs(datum.value-1) < 1e-6", "value": 5}, "value": 3}, "labelFontSize": 13, "labelFontWeight": "bold", "labelPadding": 2}},
      "y2": {"field": "ae"}}},
    {"mark": {"type": "bar"},
     "encoding": {
      "x": {"field": "g", "type": "ordinal",
            "axis": {"orient": "bottom", "labelExpr": "datum.value == 50 ? '50' : datum.value == 450 ? '450' : ''", "labelAngle": 0, "labelFontSize": 13, "labelPadding": 0, "tickSize": 5, "tickOpacity": {"condition": {"test": "datum.value == 50 || datum.value == 450", "value": 0}, "value": 1}, "title": "Number of PCs", "titleFontSize": 12, "titlePadding": -3}},
      "xOffset": {"field": "r", "type": "ordinal"},
      "y": {"field": "a", "type": "quantitative", "axis": null},
      "y2": {"datum": 0.6},
      "color": {"field": "r", "type": "ordinal", "scale": {"domain": [0,50,100,150,200,250,300,350,400,450], "range": ["#2e3192","#4a7cc4","#7f80c0","#13797a","#2eb34b","#7c7c33","#c5c52e","#f47b20","#c4216c","#ed1c24"]}, "legend": null}}},
    {"mark": {"type": "rule", "color": "#777", "strokeDash": [1.5, 1.5], "strokeWidth": 0.8}, "encoding": {"y": {"datum": 1, "type": "quantitative", "axis": null}}},
    {"mark": {"type": "rule", "color": "#000", "strokeWidth": 1.2}, "encoding": {"x": {"datum": 50, "type": "ordinal", "bandPosition": 1, "axis": null}, "x2": {"datum": 450, "bandPosition": 0}, "y": {"datum": 0.5645, "type": "quantitative", "axis": null}}},
    {"mark": {"type": "point", "shape": "M-1,-1L0,0L-1,1", "filled": false, "color": "#000", "strokeWidth": 1.2, "size": 60, "opacity": 1}, "encoding": {"x": {"datum": 450, "type": "ordinal", "bandPosition": 0, "axis": null}, "y": {"datum": 0.5645, "type": "quantitative", "axis": null}}}
   ]},
  {"width": 277, "height": 124,
   "title": {"text": "(b)", "orient": "left", "anchor": "end", "angle": 0, "align": "left", "baseline": "top", "fontSize": 19, "offset": 1, "dy": -12},
   "transform": [{"filter": "datum.p == 'GMV'"}],
   "resolve": {"axis": {"x": "independent", "y": "independent"}},
   "layer": [
    {"mark": {"type": "rule", "color": "#444", "strokeWidth": 0.8},
     "encoding": {
      "x": {"field": "g", "type": "ordinal", "scale": {"paddingInner": 0.1, "paddingOuter": 0.05},
            "axis": {"orient": "bottom", "offset": 17, "domain": false, "ticks": false, "labelExpr": "datum.value == 50 ? '(9.36)' : datum.value == 450 ? '(1.04)' : ''", "labelAngle": 0, "labelFontSize": 9.5, "labelPadding": 0, "title": "(SVR)", "titleFontSize": 9.5, "titlePadding": 1}},
      "xOffset": {"field": "r", "type": "ordinal", "scale": {"paddingInner": 0, "paddingOuter": 0}},
      "y": {"field": "b", "type": "quantitative", "scale": {"domain": [0, 0.06], "nice": false},
            "axis": {"title": "Difference in CCC", "titleFontSize": 14, "titlePadding": 0, "values": [0,0.01,0.02,0.03,0.04,0.05,0.06], "labelExpr": "abs(datum.value) < 1e-6 || abs(datum.value-0.03) < 1e-6 || abs(datum.value-0.06) < 1e-6 ? format(datum.value, '.2f') : ''", "tickSize": {"condition": {"test": "abs(datum.value) < 1e-6 || abs(datum.value-0.03) < 1e-6 || abs(datum.value-0.06) < 1e-6", "value": 5}, "value": 3}, "labelFontSize": 13, "labelFontWeight": "bold", "labelPadding": 2}},
      "y2": {"field": "be"}}},
    {"mark": {"type": "bar"},
     "encoding": {
      "x": {"field": "g", "type": "ordinal",
            "axis": {"orient": "bottom", "labelExpr": "datum.value == 50 ? '50' : datum.value == 450 ? '450' : ''", "labelAngle": 0, "labelFontSize": 13, "labelPadding": 0, "tickSize": 5, "tickOpacity": {"condition": {"test": "datum.value == 50 || datum.value == 450", "value": 0}, "value": 1}, "title": "Number of PCs", "titleFontSize": 12, "titlePadding": -3}},
      "xOffset": {"field": "r", "type": "ordinal"},
      "y": {"field": "b", "type": "quantitative", "axis": null},
      "color": {"field": "r", "type": "ordinal", "scale": {"domain": [0,50,100,150,200,250,300,350,400,450], "range": ["#2e3192","#4a7cc4","#7f80c0","#13797a","#2eb34b","#7c7c33","#c5c52e","#f47b20","#c4216c","#ed1c24"]}, "legend": null}}},
    {"mark": {"type": "rule", "color": "#000", "strokeWidth": 1.2}, "encoding": {"x": {"datum": 50, "type": "ordinal", "bandPosition": 1, "axis": null}, "x2": {"datum": 450, "bandPosition": 0}, "y": {"datum": -0.0057, "type": "quantitative", "axis": null}}},
    {"mark": {"type": "point", "shape": "M-1,-1L0,0L-1,1", "filled": false, "color": "#000", "strokeWidth": 1.2, "size": 60, "opacity": 1}, "encoding": {"x": {"datum": 450, "type": "ordinal", "bandPosition": 0, "axis": null}, "y": {"datum": -0.0057, "type": "quantitative", "axis": null}}}
   ]},
  {"width": 277, "height": 334,
   "title": {"text": "(c)", "orient": "left", "anchor": "end", "angle": 0, "align": "left", "baseline": "top", "fontSize": 19, "offset": 1, "dy": 2},
   "transform": [{"filter": "datum.p == 'GMV'"}],
   "resolve": {"axis": {"x": "independent", "y": "independent"}},
   "layer": [
    {"transform": [{"fold": ["sig", "ins", "inc"], "as": ["cat", "frac"]}, {"filter": "datum.frac > 0"}, {"stack": "frac", "groupby": ["g", "r"], "sort": [{"field": "cat", "order": "descending"}], "offset": "normalize", "as": ["t0", "t1"]}],
     "mark": {"type": "arc", "radius": 13.5, "stroke": "#222", "strokeWidth": 0.6},
     "encoding": {
      "x": {"field": "g", "type": "quantitative", "scale": {"domain": [25, 475], "nice": false, "zero": false},
            "axis": {"orient": "bottom", "values": [50,100,150,200,250,300,350,400,450], "labelExpr": "datum.value == 50 ? '50' : datum.value == 450 ? '450' : ''", "labelFlush": false, "labelOverlap": false, "labelAngle": 0, "labelFontSize": 13, "labelPadding": 0, "tickSize": 5, "tickOpacity": {"condition": {"test": "datum.value == 50 || datum.value == 450", "value": 0}, "value": 1}, "title": "Number of PCs", "titleFontSize": 12, "titlePadding": -3}},
      "y": {"field": "r", "type": "quantitative", "scale": {"domain": [-24, 514.6], "nice": false, "zero": false},
            "axis": {"domain": false, "values": [0,50,100,150,200,250,300,350,400,450], "labelExpr": "abs(datum.value) < 1e-6 ? '0' : abs(datum.value-450) < 1e-6 ? '450' : ''", "labelFlush": false, "labelOverlap": false, "labelAngle": 270, "labelFontSize": 13, "labelPadding": 4, "tickSize": 5, "title": "Subject overlapping rate", "titleFontSize": 14, "titlePadding": 6}},
      "theta": {"field": "t0", "type": "quantitative", "scale": {"domain": [0, 1]}, "stack": null},
      "theta2": {"field": "t1"},
      "fill": {"field": "cat", "type": "nominal", "scale": {"domain": ["sig", "ins", "inc"], "range": ["#f5ec4b", "#f26522", "#333333"]},
                "legend": {"orient": "none", "legendX": -22, "legendY": 5, "direction": "horizontal", "title": null, "symbolType": "square", "symbolSize": 150, "symbolStrokeColor": "#555", "symbolStrokeWidth": 0.6, "labelFontSize": 9.5, "labelOffset": 2, "columnPadding": 3, "labelExpr": "datum.value == 'sig' ? 'Consistently significant' : datum.value == 'ins' ? 'Consistently insignificant' : 'Inconsistent'"}}}},
    {"mark": {"type": "rule", "color": "#000", "strokeWidth": 1.3},
     "encoding": {"x": {"datum": 25, "type": "quantitative",
       "axis": {"orient": "bottom", "offset": 17, "domain": false, "ticks": false, "values": [50, 450], "labelExpr": "datum.value == 50 ? '(9.36)' : datum.value == 450 ? '(1.04)' : ''", "labelFlush": false, "labelOverlap": false, "labelAngle": 0, "labelFontSize": 9.5, "labelPadding": 0, "title": "(SVR)", "titleFontSize": 9.5, "titlePadding": 1}},
      "y": {"datum": -24, "type": "quantitative", "axis": null}, "y2": {"datum": 480}}},
    {"mark": {"type": "rule", "color": "#000", "strokeWidth": 1.2}, "encoding": {"x": {"datum": 73, "type": "quantitative", "axis": null}, "x2": {"datum": 428}, "y": {"datum": -41.7, "type": "quantitative", "axis": null}}},
    {"mark": {"type": "point", "shape": "M-1,-1L0,0L-1,1", "filled": false, "color": "#000", "strokeWidth": 1.2, "size": 60, "opacity": 1}, "encoding": {"x": {"datum": 428, "type": "quantitative", "axis": null}, "y": {"datum": -41.7, "type": "quantitative", "axis": null}}},
    {"mark": {"type": "rule", "color": "#000", "strokeWidth": 1.2}, "encoding": {"x": {"datum": -4, "type": "quantitative", "axis": null}, "y": {"datum": 28, "type": "quantitative", "axis": null}, "y2": {"datum": 428}}},
    {"mark": {"type": "point", "shape": "M-1,1L0,0L1,1", "filled": false, "color": "#000", "strokeWidth": 1.2, "size": 60, "opacity": 1}, "encoding": {"x": {"datum": -4, "type": "quantitative", "axis": null}, "y": {"datum": 428, "type": "quantitative", "axis": null}}}
   ]},
  {"width": 277, "height": 124,
   "title": {"text": "(d)", "orient": "left", "anchor": "end", "angle": 0, "align": "left", "baseline": "top", "fontSize": 19, "offset": 1, "dy": -5},
   "transform": [{"filter": "datum.p == 'GMV'"}],
   "resolve": {"axis": {"x": "independent", "y": "independent"}},
   "layer": [
    {"mark": {"type": "rule", "color": "#444", "strokeWidth": 0.8},
     "encoding": {
      "x": {"field": "g", "type": "ordinal", "scale": {"paddingInner": 0.1, "paddingOuter": 0.05},
            "axis": {"orient": "bottom", "offset": 17, "domain": false, "ticks": false, "labelExpr": "datum.value == 50 ? '(9.36)' : datum.value == 450 ? '(1.04)' : ''", "labelAngle": 0, "labelFontSize": 9.5, "labelPadding": 0, "title": "(SVR)", "titleFontSize": 9.5, "titlePadding": 1}},
      "xOffset": {"field": "r", "type": "ordinal", "scale": {"paddingInner": 0, "paddingOuter": 0}},
      "y": {"field": "d", "type": "quantitative", "scale": {"domain": [0, 1.1], "nice": false},
            "axis": {"title": "Correlation of IM loadings", "titleFontSize": 12.5, "titlePadding": 2, "values": [0,0.1,0.2,0.3,0.4,0.5,0.6,0.7,0.8,0.9,1,1.1], "labelExpr": "abs(datum.value) < 1e-6 || abs(datum.value-0.5) < 1e-6 || abs(datum.value-1) < 1e-6 ? format(datum.value, '.1f') : ''", "tickSize": {"condition": {"test": "abs(datum.value) < 1e-6 || abs(datum.value-0.5) < 1e-6 || abs(datum.value-1) < 1e-6", "value": 5}, "value": 3}, "labelFontSize": 13, "labelFontWeight": "bold", "labelPadding": 2}},
      "y2": {"field": "de"}}},
    {"mark": {"type": "bar"},
     "encoding": {
      "x": {"field": "g", "type": "ordinal",
            "axis": {"orient": "bottom", "labelExpr": "datum.value == 50 ? '50' : datum.value == 450 ? '450' : ''", "labelAngle": 0, "labelFontSize": 13, "labelPadding": 0, "tickSize": 5, "tickOpacity": {"condition": {"test": "datum.value == 50 || datum.value == 450", "value": 0}, "value": 1}, "title": "Number of PCs", "titleFontSize": 12, "titlePadding": -3}},
      "xOffset": {"field": "r", "type": "ordinal"},
      "y": {"field": "d", "type": "quantitative", "axis": null},
      "color": {"field": "r", "type": "ordinal", "scale": {"domain": [0,50,100,150,200,250,300,350,400,450], "range": ["#2e3192","#4a7cc4","#7f80c0","#13797a","#2eb34b","#7c7c33","#c5c52e","#f47b20","#c4216c","#ed1c24"]}, "legend": null}}},
    {"mark": {"type": "rule", "color": "#777", "strokeDash": [1.5, 1.5], "strokeWidth": 0.8}, "encoding": {"y": {"datum": 1, "type": "quantitative", "axis": null}}},
    {"mark": {"type": "rule", "color": "#000", "strokeWidth": 1.2}, "encoding": {"x": {"datum": 50, "type": "ordinal", "bandPosition": 1, "axis": null}, "x2": {"datum": 450, "bandPosition": 0}, "y": {"datum": -0.098, "type": "quantitative", "axis": null}}},
    {"mark": {"type": "point", "shape": "M-1,-1L0,0L-1,1", "filled": false, "color": "#000", "strokeWidth": 1.2, "size": 60, "opacity": 1}, "encoding": {"x": {"datum": 450, "type": "ordinal", "bandPosition": 0, "axis": null}, "y": {"datum": -0.098, "type": "quantitative", "axis": null}}}
   ]},
  {"width": 277, "height": 124,
   "title": {"text": "(e)", "orient": "left", "anchor": "end", "angle": 0, "align": "left", "baseline": "top", "fontSize": 19, "offset": 1, "dy": -5},
   "transform": [{"filter": "datum.p == 'GMV'"}],
   "resolve": {"axis": {"x": "independent", "y": "independent"}},
   "layer": [
    {"mark": {"type": "rule", "color": "#444", "strokeWidth": 0.8},
     "encoding": {
      "x": {"field": "g", "type": "ordinal", "scale": {"paddingInner": 0.1, "paddingOuter": 0.05},
            "axis": {"orient": "bottom", "offset": 17, "domain": false, "ticks": false, "labelExpr": "datum.value == 50 ? '(9.36)' : datum.value == 450 ? '(1.04)' : ''", "labelAngle": 0, "labelFontSize": 9.5, "labelPadding": 0, "title": "(SVR)", "titleFontSize": 9.5, "titlePadding": 1}},
      "xOffset": {"field": "r", "type": "ordinal", "scale": {"paddingInner": 0, "paddingOuter": 0}},
      "y": {"field": "e", "type": "quantitative", "scale": {"domain": [0, 1.1], "nice": false},
            "axis": {"title": "Correlation of SM loadings", "titleFontSize": 12.5, "titlePadding": 2, "values": [0,0.1,0.2,0.3,0.4,0.5,0.6,0.7,0.8,0.9,1,1.1], "labelExpr": "abs(datum.value) < 1e-6 || abs(datum.value-0.5) < 1e-6 || abs(datum.value-1) < 1e-6 ? format(datum.value, '.1f') : ''", "tickSize": {"condition": {"test": "abs(datum.value) < 1e-6 || abs(datum.value-0.5) < 1e-6 || abs(datum.value-1) < 1e-6", "value": 5}, "value": 3}, "labelFontSize": 13, "labelFontWeight": "bold", "labelPadding": 2}},
      "y2": {"field": "ee"}}},
    {"mark": {"type": "bar"},
     "encoding": {
      "x": {"field": "g", "type": "ordinal",
            "axis": {"orient": "bottom", "labelExpr": "datum.value == 50 ? '50' : datum.value == 450 ? '450' : ''", "labelAngle": 0, "labelFontSize": 13, "labelPadding": 0, "tickSize": 5, "tickOpacity": {"condition": {"test": "datum.value == 50 || datum.value == 450", "value": 0}, "value": 1}, "title": "Number of PCs", "titleFontSize": 12, "titlePadding": -3}},
      "xOffset": {"field": "r", "type": "ordinal"},
      "y": {"field": "e", "type": "quantitative", "axis": null},
      "color": {"field": "r", "type": "ordinal", "scale": {"domain": [0,50,100,150,200,250,300,350,400,450], "range": ["#2e3192","#4a7cc4","#7f80c0","#13797a","#2eb34b","#7c7c33","#c5c52e","#f47b20","#c4216c","#ed1c24"]}, "legend": null}}},
    {"mark": {"type": "rule", "color": "#777", "strokeDash": [1.5, 1.5], "strokeWidth": 0.8}, "encoding": {"y": {"datum": 1, "type": "quantitative", "axis": null}}},
    {"mark": {"type": "rule", "color": "#000", "strokeWidth": 1.2}, "encoding": {"x": {"datum": 50, "type": "ordinal", "bandPosition": 1, "axis": null}, "x2": {"datum": 450, "bandPosition": 0}, "y": {"datum": -0.098, "type": "quantitative", "axis": null}}},
    {"mark": {"type": "point", "shape": "M-1,-1L0,0L-1,1", "filled": false, "color": "#000", "strokeWidth": 1.2, "size": 60, "opacity": 1}, "encoding": {"x": {"datum": 450, "type": "ordinal", "bandPosition": 0, "axis": null}, "y": {"datum": -0.098, "type": "quantitative", "axis": null}}}
   ]}
  ]},
 {"title": {"text": "ReHo", "fontSize": 17, "anchor": "middle", "frame": "bounds", "offset": 0, "dx": 26.5},
  "bounds": "flush", "spacing": 44,
  "resolve": {"scale": {"fill": "independent"}, "legend": {"fill": "independent"}},
  "vconcat": [
  {"width": 277, "height": 124,
   "transform": [{"filter": "datum.p == 'ReHo'"}],
   "resolve": {"axis": {"x": "independent", "y": "independent"}},
   "layer": [
    {"mark": {"type": "rule", "color": "#444", "strokeWidth": 0.8},
     "encoding": {
      "x": {"field": "g", "type": "ordinal", "scale": {"paddingInner": 0.1, "paddingOuter": 0.05},
            "axis": {"orient": "bottom", "offset": 17, "domain": false, "ticks": false, "labelExpr": "datum.value == 50 ? '(9.36)' : datum.value == 450 ? '(1.04)' : ''", "labelAngle": 0, "labelFontSize": 9.5, "labelPadding": 0, "title": "(SVR)", "titleFontSize": 9.5, "titlePadding": 1}},
      "xOffset": {"field": "r", "type": "ordinal", "scale": {"paddingInner": 0, "paddingOuter": 0}},
      "y": {"field": "a", "type": "quantitative", "scale": {"domain": [0.6, 1], "zero": false, "nice": false},
            "axis": {"title": "CCC", "titleFontSize": 14, "titlePadding": 6.5, "values": [0.6,0.64,0.68,0.72,0.76,0.8,0.84,0.88,0.92,0.96,1], "labelExpr": "abs(datum.value-0.6) < 1e-6 || abs(datum.value-0.8) < 1e-6 || abs(datum.value-1) < 1e-6 ? format(datum.value, '.1f') : ''", "tickSize": {"condition": {"test": "abs(datum.value-0.6) < 1e-6 || abs(datum.value-0.8) < 1e-6 || abs(datum.value-1) < 1e-6", "value": 5}, "value": 3}, "labelFontSize": 13, "labelFontWeight": "bold", "labelPadding": 2}},
      "y2": {"field": "ae"}}},
    {"mark": {"type": "bar"},
     "encoding": {
      "x": {"field": "g", "type": "ordinal",
            "axis": {"orient": "bottom", "labelExpr": "datum.value == 50 ? '50' : datum.value == 450 ? '450' : ''", "labelAngle": 0, "labelFontSize": 13, "labelPadding": 0, "tickSize": 5, "tickOpacity": {"condition": {"test": "datum.value == 50 || datum.value == 450", "value": 0}, "value": 1}, "title": "Number of PCs", "titleFontSize": 12, "titlePadding": -3}},
      "xOffset": {"field": "r", "type": "ordinal"},
      "y": {"field": "a", "type": "quantitative", "axis": null},
      "y2": {"datum": 0.6},
      "color": {"field": "r", "type": "ordinal", "scale": {"domain": [0,50,100,150,200,250,300,350,400,450], "range": ["#2e3192","#4a7cc4","#7f80c0","#13797a","#2eb34b","#7c7c33","#c5c52e","#f47b20","#c4216c","#ed1c24"]}, "legend": null}}},
    {"mark": {"type": "rule", "color": "#777", "strokeDash": [1.5, 1.5], "strokeWidth": 0.8}, "encoding": {"y": {"datum": 1, "type": "quantitative", "axis": null}}},
    {"mark": {"type": "rule", "color": "#000", "strokeWidth": 1.2}, "encoding": {"x": {"datum": 50, "type": "ordinal", "bandPosition": 1, "axis": null}, "x2": {"datum": 450, "bandPosition": 0}, "y": {"datum": 0.5645, "type": "quantitative", "axis": null}}},
    {"mark": {"type": "point", "shape": "M-1,-1L0,0L-1,1", "filled": false, "color": "#000", "strokeWidth": 1.2, "size": 60, "opacity": 1}, "encoding": {"x": {"datum": 450, "type": "ordinal", "bandPosition": 0, "axis": null}, "y": {"datum": 0.5645, "type": "quantitative", "axis": null}}}
   ]},
  {"width": 277, "height": 124,
   "transform": [{"filter": "datum.p == 'ReHo'"}],
   "resolve": {"axis": {"x": "independent", "y": "independent"}},
   "layer": [
    {"mark": {"type": "rule", "color": "#444", "strokeWidth": 0.8},
     "encoding": {
      "x": {"field": "g", "type": "ordinal", "scale": {"paddingInner": 0.1, "paddingOuter": 0.05},
            "axis": {"orient": "bottom", "offset": 17, "domain": false, "ticks": false, "labelExpr": "datum.value == 50 ? '(9.36)' : datum.value == 450 ? '(1.04)' : ''", "labelAngle": 0, "labelFontSize": 9.5, "labelPadding": 0, "title": "(SVR)", "titleFontSize": 9.5, "titlePadding": 1}},
      "xOffset": {"field": "r", "type": "ordinal", "scale": {"paddingInner": 0, "paddingOuter": 0}},
      "y": {"field": "b", "type": "quantitative", "scale": {"domain": [0, 0.06], "nice": false},
            "axis": {"title": "Difference in CCC", "titleFontSize": 14, "titlePadding": 0, "values": [0,0.01,0.02,0.03,0.04,0.05,0.06], "labelExpr": "abs(datum.value) < 1e-6 || abs(datum.value-0.03) < 1e-6 || abs(datum.value-0.06) < 1e-6 ? format(datum.value, '.2f') : ''", "tickSize": {"condition": {"test": "abs(datum.value) < 1e-6 || abs(datum.value-0.03) < 1e-6 || abs(datum.value-0.06) < 1e-6", "value": 5}, "value": 3}, "labelFontSize": 13, "labelFontWeight": "bold", "labelPadding": 2}},
      "y2": {"field": "be"}}},
    {"mark": {"type": "bar"},
     "encoding": {
      "x": {"field": "g", "type": "ordinal",
            "axis": {"orient": "bottom", "labelExpr": "datum.value == 50 ? '50' : datum.value == 450 ? '450' : ''", "labelAngle": 0, "labelFontSize": 13, "labelPadding": 0, "tickSize": 5, "tickOpacity": {"condition": {"test": "datum.value == 50 || datum.value == 450", "value": 0}, "value": 1}, "title": "Number of PCs", "titleFontSize": 12, "titlePadding": -3}},
      "xOffset": {"field": "r", "type": "ordinal"},
      "y": {"field": "b", "type": "quantitative", "axis": null},
      "color": {"field": "r", "type": "ordinal", "scale": {"domain": [0,50,100,150,200,250,300,350,400,450], "range": ["#2e3192","#4a7cc4","#7f80c0","#13797a","#2eb34b","#7c7c33","#c5c52e","#f47b20","#c4216c","#ed1c24"]}, "legend": null}}},
    {"mark": {"type": "rule", "color": "#000", "strokeWidth": 1.2}, "encoding": {"x": {"datum": 50, "type": "ordinal", "bandPosition": 1, "axis": null}, "x2": {"datum": 450, "bandPosition": 0}, "y": {"datum": -0.0057, "type": "quantitative", "axis": null}}},
    {"mark": {"type": "point", "shape": "M-1,-1L0,0L-1,1", "filled": false, "color": "#000", "strokeWidth": 1.2, "size": 60, "opacity": 1}, "encoding": {"x": {"datum": 450, "type": "ordinal", "bandPosition": 0, "axis": null}, "y": {"datum": -0.0057, "type": "quantitative", "axis": null}}}
   ]},
  {"width": 277, "height": 334,
   "transform": [{"filter": "datum.p == 'ReHo'"}],
   "resolve": {"axis": {"x": "independent", "y": "independent"}},
   "layer": [
    {"transform": [{"fold": ["sig", "ins", "inc"], "as": ["cat", "frac"]}, {"filter": "datum.frac > 0"}, {"stack": "frac", "groupby": ["g", "r"], "sort": [{"field": "cat", "order": "descending"}], "offset": "normalize", "as": ["t0", "t1"]}],
     "mark": {"type": "arc", "radius": 13.5, "stroke": "#222", "strokeWidth": 0.6},
     "encoding": {
      "x": {"field": "g", "type": "quantitative", "scale": {"domain": [25, 475], "nice": false, "zero": false},
            "axis": {"orient": "bottom", "values": [50,100,150,200,250,300,350,400,450], "labelExpr": "datum.value == 50 ? '50' : datum.value == 450 ? '450' : ''", "labelFlush": false, "labelOverlap": false, "labelAngle": 0, "labelFontSize": 13, "labelPadding": 0, "tickSize": 5, "tickOpacity": {"condition": {"test": "datum.value == 50 || datum.value == 450", "value": 0}, "value": 1}, "title": "Number of PCs", "titleFontSize": 12, "titlePadding": -3}},
      "y": {"field": "r", "type": "quantitative", "scale": {"domain": [-24, 514.6], "nice": false, "zero": false},
            "axis": {"domain": false, "values": [0,50,100,150,200,250,300,350,400,450], "labelExpr": "abs(datum.value) < 1e-6 ? '0' : abs(datum.value-450) < 1e-6 ? '450' : ''", "labelFlush": false, "labelOverlap": false, "labelAngle": 270, "labelFontSize": 13, "labelPadding": 4, "tickSize": 5, "title": "Subject overlapping rate", "titleFontSize": 14, "titlePadding": 6}},
      "theta": {"field": "t0", "type": "quantitative", "scale": {"domain": [0, 1]}, "stack": null},
      "theta2": {"field": "t1"},
      "fill": {"field": "cat", "type": "nominal", "scale": {"domain": ["sig", "ins", "inc"], "range": ["#f5ec4b", "#f26522", "#333333"]},
                "legend": {"orient": "none", "legendX": -25, "legendY": 5, "direction": "horizontal", "title": null, "symbolType": "square", "symbolSize": 150, "symbolStrokeColor": "#555", "symbolStrokeWidth": 0.6, "labelFontSize": 9.5, "labelOffset": 2, "columnPadding": 3, "labelExpr": "datum.value == 'sig' ? 'Consistently significant' : datum.value == 'ins' ? 'Consistently insignificant' : 'Inconsistent'"}}}},
    {"mark": {"type": "rule", "color": "#000", "strokeWidth": 1.3},
     "encoding": {"x": {"datum": 25, "type": "quantitative",
       "axis": {"orient": "bottom", "offset": 17, "domain": false, "ticks": false, "values": [50, 450], "labelExpr": "datum.value == 50 ? '(9.36)' : datum.value == 450 ? '(1.04)' : ''", "labelFlush": false, "labelOverlap": false, "labelAngle": 0, "labelFontSize": 9.5, "labelPadding": 0, "title": "(SVR)", "titleFontSize": 9.5, "titlePadding": 1}},
      "y": {"datum": -24, "type": "quantitative", "axis": null}, "y2": {"datum": 480}}},
    {"mark": {"type": "rule", "color": "#000", "strokeWidth": 1.2}, "encoding": {"x": {"datum": 73, "type": "quantitative", "axis": null}, "x2": {"datum": 428}, "y": {"datum": -41.7, "type": "quantitative", "axis": null}}},
    {"mark": {"type": "point", "shape": "M-1,-1L0,0L-1,1", "filled": false, "color": "#000", "strokeWidth": 1.2, "size": 60, "opacity": 1}, "encoding": {"x": {"datum": 428, "type": "quantitative", "axis": null}, "y": {"datum": -41.7, "type": "quantitative", "axis": null}}},
    {"mark": {"type": "rule", "color": "#000", "strokeWidth": 1.2}, "encoding": {"x": {"datum": -4, "type": "quantitative", "axis": null}, "y": {"datum": 28, "type": "quantitative", "axis": null}, "y2": {"datum": 428}}},
    {"mark": {"type": "point", "shape": "M-1,1L0,0L1,1", "filled": false, "color": "#000", "strokeWidth": 1.2, "size": 60, "opacity": 1}, "encoding": {"x": {"datum": -4, "type": "quantitative", "axis": null}, "y": {"datum": 428, "type": "quantitative", "axis": null}}}
   ]},
  {"width": 277, "height": 124,
   "transform": [{"filter": "datum.p == 'ReHo'"}],
   "resolve": {"axis": {"x": "independent", "y": "independent"}},
   "layer": [
    {"mark": {"type": "rule", "color": "#444", "strokeWidth": 0.8},
     "encoding": {
      "x": {"field": "g", "type": "ordinal", "scale": {"paddingInner": 0.1, "paddingOuter": 0.05},
            "axis": {"orient": "bottom", "offset": 17, "domain": false, "ticks": false, "labelExpr": "datum.value == 50 ? '(9.36)' : datum.value == 450 ? '(1.04)' : ''", "labelAngle": 0, "labelFontSize": 9.5, "labelPadding": 0, "title": "(SVR)", "titleFontSize": 9.5, "titlePadding": 1}},
      "xOffset": {"field": "r", "type": "ordinal", "scale": {"paddingInner": 0, "paddingOuter": 0}},
      "y": {"field": "d", "type": "quantitative", "scale": {"domain": [0, 1.1], "nice": false},
            "axis": {"title": "Correlation of IM loadings", "titleFontSize": 12.5, "titlePadding": 2, "values": [0,0.1,0.2,0.3,0.4,0.5,0.6,0.7,0.8,0.9,1,1.1], "labelExpr": "abs(datum.value) < 1e-6 || abs(datum.value-0.5) < 1e-6 || abs(datum.value-1) < 1e-6 ? format(datum.value, '.1f') : ''", "tickSize": {"condition": {"test": "abs(datum.value) < 1e-6 || abs(datum.value-0.5) < 1e-6 || abs(datum.value-1) < 1e-6", "value": 5}, "value": 3}, "labelFontSize": 13, "labelFontWeight": "bold", "labelPadding": 2}},
      "y2": {"field": "de"}}},
    {"mark": {"type": "bar"},
     "encoding": {
      "x": {"field": "g", "type": "ordinal",
            "axis": {"orient": "bottom", "labelExpr": "datum.value == 50 ? '50' : datum.value == 450 ? '450' : ''", "labelAngle": 0, "labelFontSize": 13, "labelPadding": 0, "tickSize": 5, "tickOpacity": {"condition": {"test": "datum.value == 50 || datum.value == 450", "value": 0}, "value": 1}, "title": "Number of PCs", "titleFontSize": 12, "titlePadding": -3}},
      "xOffset": {"field": "r", "type": "ordinal"},
      "y": {"field": "d", "type": "quantitative", "axis": null},
      "color": {"field": "r", "type": "ordinal", "scale": {"domain": [0,50,100,150,200,250,300,350,400,450], "range": ["#2e3192","#4a7cc4","#7f80c0","#13797a","#2eb34b","#7c7c33","#c5c52e","#f47b20","#c4216c","#ed1c24"]}, "legend": null}}},
    {"mark": {"type": "rule", "color": "#777", "strokeDash": [1.5, 1.5], "strokeWidth": 0.8}, "encoding": {"y": {"datum": 1, "type": "quantitative", "axis": null}}},
    {"mark": {"type": "rule", "color": "#000", "strokeWidth": 1.2}, "encoding": {"x": {"datum": 50, "type": "ordinal", "bandPosition": 1, "axis": null}, "x2": {"datum": 450, "bandPosition": 0}, "y": {"datum": -0.098, "type": "quantitative", "axis": null}}},
    {"mark": {"type": "point", "shape": "M-1,-1L0,0L-1,1", "filled": false, "color": "#000", "strokeWidth": 1.2, "size": 60, "opacity": 1}, "encoding": {"x": {"datum": 450, "type": "ordinal", "bandPosition": 0, "axis": null}, "y": {"datum": -0.098, "type": "quantitative", "axis": null}}}
   ]},
  {"width": 277, "height": 124,
   "transform": [{"filter": "datum.p == 'ReHo'"}],
   "resolve": {"axis": {"x": "independent", "y": "independent"}},
   "layer": [
    {"mark": {"type": "rule", "color": "#444", "strokeWidth": 0.8},
     "encoding": {
      "x": {"field": "g", "type": "ordinal", "scale": {"paddingInner": 0.1, "paddingOuter": 0.05},
            "axis": {"orient": "bottom", "offset": 17, "domain": false, "ticks": false, "labelExpr": "datum.value == 50 ? '(9.36)' : datum.value == 450 ? '(1.04)' : ''", "labelAngle": 0, "labelFontSize": 9.5, "labelPadding": 0, "title": "(SVR)", "titleFontSize": 9.5, "titlePadding": 1}},
      "xOffset": {"field": "r", "type": "ordinal", "scale": {"paddingInner": 0, "paddingOuter": 0}},
      "y": {"field": "e", "type": "quantitative", "scale": {"domain": [0, 1.1], "nice": false},
            "axis": {"title": "Correlation of SM loadings", "titleFontSize": 12.5, "titlePadding": 2, "values": [0,0.1,0.2,0.3,0.4,0.5,0.6,0.7,0.8,0.9,1,1.1], "labelExpr": "abs(datum.value) < 1e-6 || abs(datum.value-0.5) < 1e-6 || abs(datum.value-1) < 1e-6 ? format(datum.value, '.1f') : ''", "tickSize": {"condition": {"test": "abs(datum.value) < 1e-6 || abs(datum.value-0.5) < 1e-6 || abs(datum.value-1) < 1e-6", "value": 5}, "value": 3}, "labelFontSize": 13, "labelFontWeight": "bold", "labelPadding": 2}},
      "y2": {"field": "ee"}}},
    {"mark": {"type": "bar"},
     "encoding": {
      "x": {"field": "g", "type": "ordinal",
            "axis": {"orient": "bottom", "labelExpr": "datum.value == 50 ? '50' : datum.value == 450 ? '450' : ''", "labelAngle": 0, "labelFontSize": 13, "labelPadding": 0, "tickSize": 5, "tickOpacity": {"condition": {"test": "datum.value == 50 || datum.value == 450", "value": 0}, "value": 1}, "title": "Number of PCs", "titleFontSize": 12, "titlePadding": -3}},
      "xOffset": {"field": "r", "type": "ordinal"},
      "y": {"field": "e", "type": "quantitative", "axis": null},
      "color": {"field": "r", "type": "ordinal", "scale": {"domain": [0,50,100,150,200,250,300,350,400,450], "range": ["#2e3192","#4a7cc4","#7f80c0","#13797a","#2eb34b","#7c7c33","#c5c52e","#f47b20","#c4216c","#ed1c24"]}, "legend": null}}},
    {"mark": {"type": "rule", "color": "#777", "strokeDash": [1.5, 1.5], "strokeWidth": 0.8}, "encoding": {"y": {"datum": 1, "type": "quantitative", "axis": null}}},
    {"mark": {"type": "rule", "color": "#000", "strokeWidth": 1.2}, "encoding": {"x": {"datum": 50, "type": "ordinal", "bandPosition": 1, "axis": null}, "x2": {"datum": 450, "bandPosition": 0}, "y": {"datum": -0.098, "type": "quantitative", "axis": null}}},
    {"mark": {"type": "point", "shape": "M-1,-1L0,0L-1,1", "filled": false, "color": "#000", "strokeWidth": 1.2, "size": 60, "opacity": 1}, "encoding": {"x": {"datum": 450, "type": "ordinal", "bandPosition": 0, "axis": null}, "y": {"datum": -0.098, "type": "quantitative", "axis": null}}}
   ]}
  ]}
]},
{"width": 205, "height": 16,
 "transform": [{"filter": "datum.p == 'GMV' && datum.g == 50"}],
 "resolve": {"axis": {"y": "independent"}},
 "layer": [
  {"mark": {"type": "bar"},
   "encoding": {
    "x": {"field": "r", "type": "ordinal", "scale": {"paddingInner": 0.32, "paddingOuter": 0},
          "axis": {"domain": false, "ticks": false, "labelExpr": "datum.value == 0 ? '0' : datum.value == 450 ? '450' : ''", "labelAngle": 0, "labelFontSize": 13, "labelPadding": 5, "title": "Subject overlapping rate", "titleFontSize": 12.5, "titlePadding": -2}},
    "y": {"datum": 0, "type": "quantitative", "scale": {"domain": [0, 1]}, "axis": {"orient": "right", "title": " ", "titleFontSize": 8, "titlePadding": 30, "domain": false, "ticks": false, "labels": false}},
    "y2": {"datum": 1},
    "color": {"field": "r", "type": "ordinal", "scale": {"domain": [0,50,100,150,200,250,300,350,400,450], "range": ["#2e3192","#4a7cc4","#7f80c0","#13797a","#2eb34b","#7c7c33","#c5c52e","#f47b20","#c4216c","#ed1c24"]}, "legend": null}}},
  {"mark": {"type": "rule", "color": "#000", "strokeWidth": 1.2}, "encoding": {"x": {"datum": 0, "type": "ordinal", "bandPosition": 1}, "x2": {"datum": 400, "bandPosition": 1}, "y": {"datum": -0.8, "type": "quantitative", "axis": null}}},
  {"mark": {"type": "point", "shape": "M-1,-1L0,0L-1,1", "filled": false, "color": "#000", "strokeWidth": 1.2, "size": 60, "opacity": 1}, "encoding": {"x": {"datum": 400, "type": "ordinal", "bandPosition": 1}, "y": {"datum": -0.8, "type": "quantitative", "axis": null}}}
 ]}
]
}
